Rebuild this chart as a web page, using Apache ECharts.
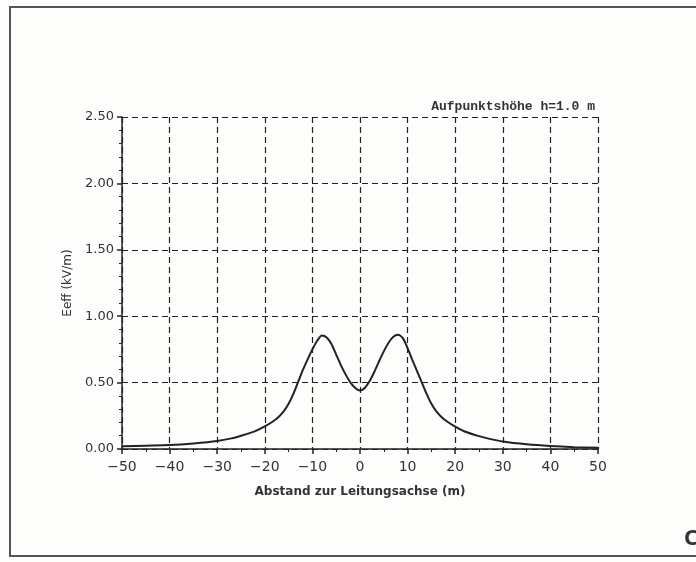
<!DOCTYPE html>
<html>
<head>
<meta charset="utf-8">
<script src="https://cdn.jsdelivr.net/npm/echarts@6/dist/echarts.min.js"></script>
<style>
  html, body { margin: 0; padding: 0; background: #fdfdfc; }
  #chart { width: 696px; height: 562px; }
</style>
</head>
<body>
<div id="chart"></div>
<script>
// Abstand zur Leitungsachse (m)
var abstand = [-50, -45, -40, -35, -30, -27, -25, -22, -20, -18, -17, -16, -15, -14, -13, -12, -11, -10, -9, -8, -7, -6, -5, -4, -3, -2, -1, 0,
  1, 2, 3, 4, 5, 6, 7, 8, 9, 10, 11, 12, 13, 14, 15, 16, 17, 18, 20, 22, 25, 27, 30, 35, 40, 45, 50];
// Eeff (kV/m)
var eeff = [0.02, 0.025, 0.03, 0.042, 0.06, 0.08, 0.10, 0.135, 0.17, 0.215, 0.245, 0.285, 0.34, 0.415, 0.505, 0.595, 0.675, 0.75, 0.815, 0.855, 0.84, 0.79, 0.71, 0.63, 0.56, 0.50, 0.46, 0.44,
  0.46, 0.51, 0.58, 0.66, 0.735, 0.80, 0.845, 0.86, 0.835, 0.76, 0.67, 0.585, 0.50, 0.415, 0.34, 0.285, 0.245, 0.215, 0.168, 0.132, 0.097, 0.078, 0.056, 0.035, 0.022, 0.014, 0.01];

var xTicks = [-50, -40, -30, -20, -10, 0, 10, 20, 30, 40, 50];
var yTicks = [0, 0.5, 1.0, 1.5, 2.0, 2.5];

var chart = echarts.init(document.getElementById("chart"));

var ink = "#222";
var dash = { color: ink, width: 1.2, type: [6, 4] };

chart.setOption({
  backgroundColor: "#fdfdfc",
  animation: false,
  grid: { left: 122, right: 98, top: 117, bottom: 113 },
  title: {
    text: "Aufpunktshöhe h=1.0 m",
    right: 96,
    top: 95,
    textStyle: { fontFamily: "Liberation Mono", fontSize: 13, fontWeight: "bold", color: "#333" }
  },
  graphic: [
    {
      type: "rect",
      shape: { x: 10, y: 7, width: 700, height: 549 },
      style: { fill: null, stroke: "#555", lineWidth: 2 }
    },
    {
      type: "text",
      left: 684,
      top: 528,
      style: { text: "C", font: "bold 22px 'Noto Sans'", fill: "#333" }
    }
  ],
  xAxis: {
    type: "value",
    min: xTicks[0],
    max: xTicks[xTicks.length - 1],
    interval: 10,
    name: "Abstand zur Leitungsachse (m)",
    nameLocation: "middle",
    nameGap: 37,
    nameTextStyle: { fontFamily: "DejaVu Sans", fontSize: 12, fontWeight: "bold", color: "#333" },
    axisLine: { lineStyle: { color: ink, width: 1.5 } },
    axisTick: { length: 5, lineStyle: { color: ink, width: 1.5 } },
    minorTick: { show: true, splitNumber: 2, length: 3, lineStyle: { color: ink } },
    axisLabel: {
      margin: 11,
      fontFamily: "DejaVu Sans",
      fontSize: 14,
      color: "#333",
      formatter: function (v) { return v < 0 ? "\u2212" + Math.abs(v) : String(v); }
    },
    splitLine: { show: true, lineStyle: dash }
  },
  yAxis: {
    type: "value",
    min: yTicks[0],
    max: yTicks[yTicks.length - 1],
    interval: 0.5,
    name: "Eeff (kV/m)",
    nameLocation: "middle",
    nameGap: 44,
    nameTextStyle: { fontFamily: "DejaVu Sans", fontSize: 12, color: "#333" },
    axisLine: { show: true, onZero: false, lineStyle: { color: ink, width: 1.5 } },
    axisTick: { show: true, length: 5, lineStyle: { color: ink, width: 1.5 } },
    minorTick: { show: true, splitNumber: 5, length: 3, lineStyle: { color: ink } },
    axisLabel: {
      margin: 8,
      fontFamily: "DejaVu Sans",
      fontSize: 13,
      color: "#333",
      formatter: function (v) { return v.toFixed(2); }
    },
    splitLine: { show: true, lineStyle: dash }
  },
  series: [
    {
      type: "line",
      data: abstand.map(function (x, i) { return [x, eeff[i]]; }),
      smooth: 0.25,
      showSymbol: false,
      lineStyle: { color: ink, width: 2 }
    }
  ]
});
</script>
</body>
</html>
